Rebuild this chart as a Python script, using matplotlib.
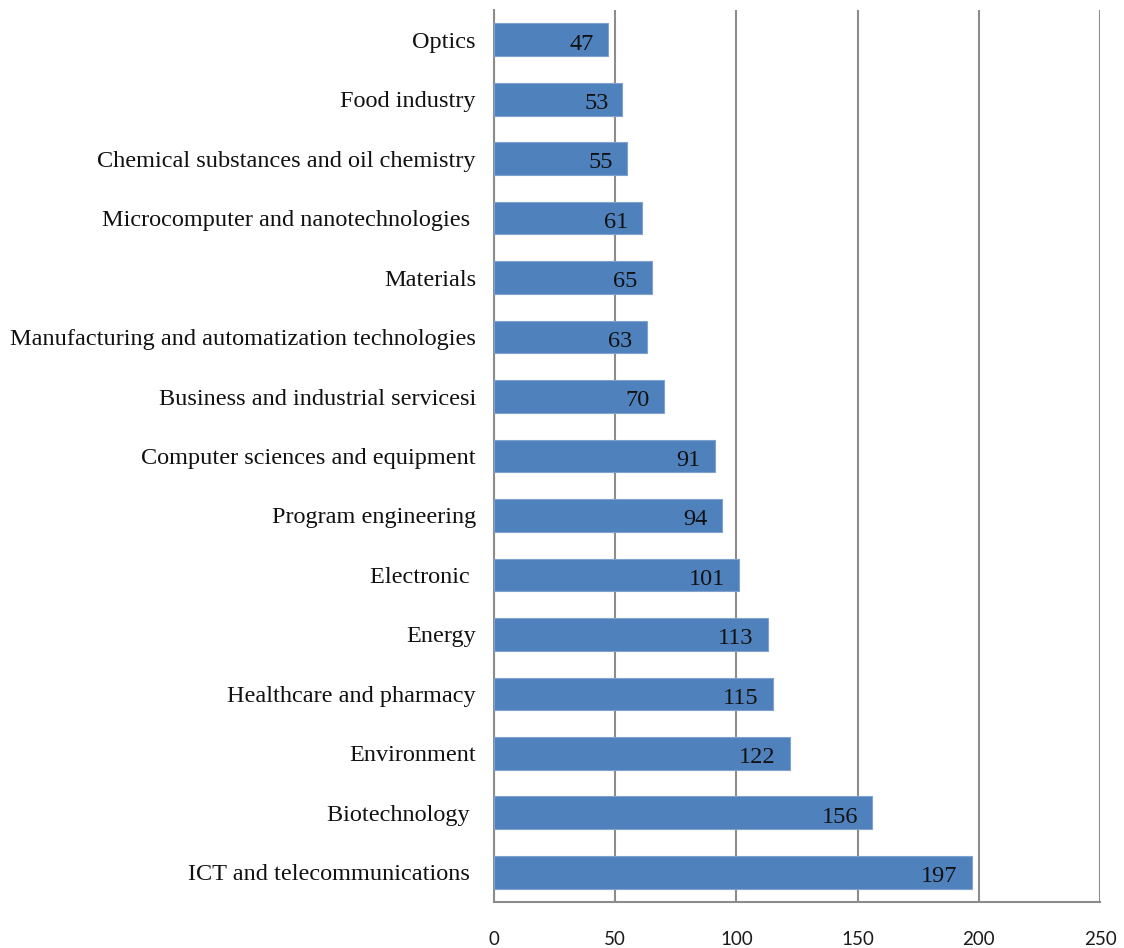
import matplotlib.pyplot as plt

# sector names, top to bottom
sectors = [
    'Optics',
    'Food industry',
    'Chemical substances and oil chemistry',
    'Microcomputer and nanotechnologies ',
    'Materials',
    'Manufacturing and automatization technologies',
    'Business and industrial servicesi',
    'Computer sciences and equipment',
    'Program engineering',
    'Electronic ',
    'Energy',
    'Healthcare and pharmacy',
    'Environment',
    'Biotechnology ',
    'ICT and telecommunications ',
]
counts = [47, 53, 55, 61, 65, 63, 70, 91, 94, 101, 113, 115, 122, 156, 197]
xticks = [0, 50, 100, 150, 200, 250]

bar_color = '#4F81BD'
grid_color = '#8C8C8C'

fig = plt.figure(figsize=(11.24, 9.48), dpi=100)
ax = fig.add_axes([494 / 1124, 1 - 902 / 948, 606 / 1124, 892 / 948])

ypos = list(range(len(sectors)))
bars = ax.barh(ypos, counts, height=0.55, color=bar_color,
               edgecolor='#7FA2CF', linewidth=0.8, zorder=3)

# value labels inside the bar ends
for y, v in zip(ypos, counts):
    ax.text(v - 5.8, y + 0.03, str(v), ha='right', va='center_baseline',
            family='Liberation Serif', fontsize=17.5, color='#111111', zorder=4)

ax.set_ylim(len(sectors) - 0.5, -0.5)
ax.set_xlim(0, 250)
ax.set_xticks(xticks)
ax.set_yticks(ypos)
ax.set_yticklabels(sectors, family='Liberation Serif', fontsize=17.5, color='#111111')
ax.set_xticklabels([str(t) for t in xticks], family='Lato', fontsize=13.5, color='#1a1a1a')

ax.tick_params(axis='both', length=0)
ax.tick_params(axis='x', pad=21)
ax.tick_params(axis='y', pad=13)

ax.xaxis.grid(True, color=grid_color, linewidth=1.5, zorder=0)
ax.set_axisbelow(True)

for side in ['top', 'right']:
    ax.spines[side].set_visible(False)
for side in ['left', 'bottom']:
    ax.spines[side].set_color(grid_color)
    ax.spines[side].set_linewidth(1.5)

fig.savefig('out.png', dpi=100)
